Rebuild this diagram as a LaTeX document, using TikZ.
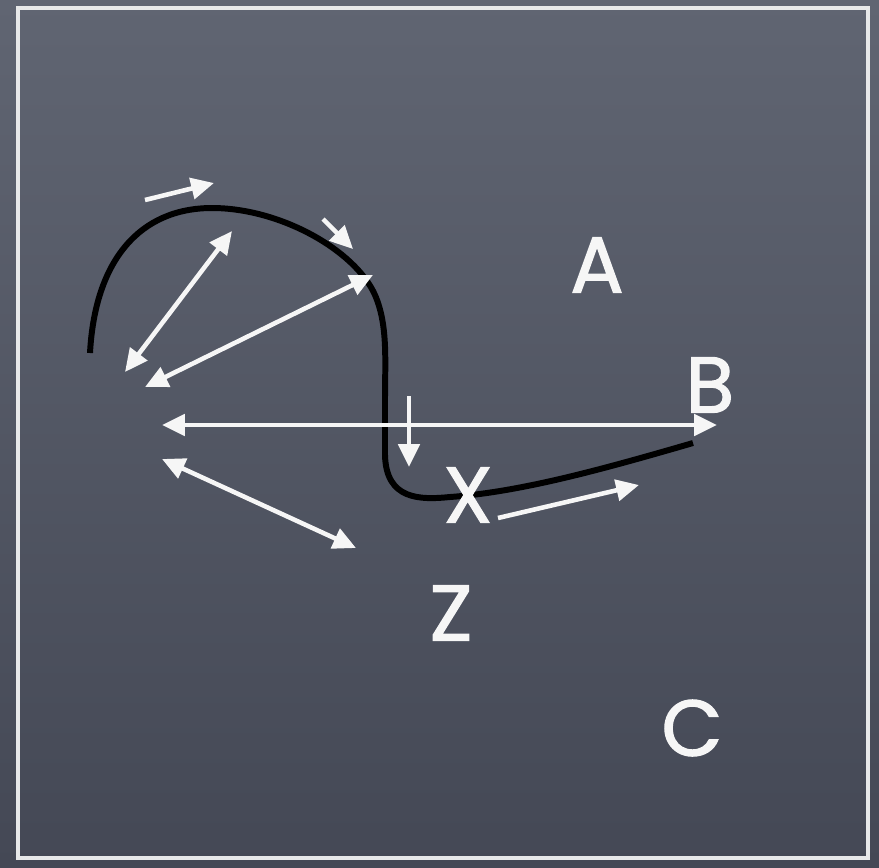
\documentclass[tikz,border=0pt]{standalone}
\usepackage{fontspec}
\setmainfont{Poppins}[FakeBold=1.6]
\usetikzlibrary{arrows.meta}
\definecolor{slatetop}{RGB}{96,101,114}
\definecolor{slatebot}{RGB}{68,72,85}
\definecolor{chalk}{RGB}{246,246,246}
\begin{document}
\begin{tikzpicture}[x=0.02cm, y=-0.02cm, font=\fontsize{45}{50}\selectfont]
			\tikzset{
				chalkarrow/.style={draw=chalk, line width=2.6pt, -{Triangle[length=13pt, width=12pt]}},
				chalkboth/.style={chalkarrow, {Triangle[length=13pt, width=12pt]}-{Triangle[length=13pt, width=12pt]}},
				letter/.style={text=chalk, inner sep=0pt}
			}
			% board
			\useasboundingbox (0,0) rectangle (879,867);
			\shade[top color=slatetop, bottom color=slatebot] (0,0) rectangle (879,867);
			\draw[chalk!90!slatetop, line width=2pt] (18,8) rectangle (868,858);
			% the curve
			\draw[black, line width=3.4pt]
				(90,353) .. controls (95,260) and (140,208) .. (212,208)
				.. controls (280,208) and (355,250) .. (375,295)
				.. controls (388,325) and (385,360) .. (385,400)
				-- (385,455) .. controls (386,500) and (420,500) .. (450,497)
				.. controls (520,492) and (600,470) .. (693,443);
			% labels
			\node[letter] (A) at (597,265) {A};
			\node[letter] (B) at (710,385) {B};
			\node[letter] (X) at (468,495) {X};
			\node[letter] (Z) at (451,613) {Z};
			\node[letter] (C) at (692,728) {C};
			% arrow ends
			\coordinate (t1) at (145,200); \coordinate (h1) at (214,183);
			\coordinate (t2) at (323,219); \coordinate (h2) at (353,249);
			\coordinate (p3) at (125,372); \coordinate (q3) at (232,231);
			\coordinate (p4) at (145,387); \coordinate (q4) at (373,275);
			\coordinate (p5) at (162,425); \coordinate (q5) at (717,425);
			\coordinate (t6) at (409,396); \coordinate (h6) at (409,467);
			\coordinate (p7) at (162,459); \coordinate (q7) at (356,548);
			\coordinate (t8) at (498,518); \coordinate (h8) at (639,485);
			% arrows
			\draw[chalkarrow] (t1) -- (h1);
			\draw[chalkarrow] (t2) -- (h2);
			\draw[chalkboth] (p3) -- (q3);
			\draw[chalkboth] (p4) -- (q4);
			\draw[chalkboth] (p5) -- (q5);
			\draw[chalkarrow] (t6) -- (h6);
			\draw[chalkboth] (p7) -- (q7);
			\draw[chalkarrow] (t8) -- (h8);
		\end{tikzpicture}
\end{document}
